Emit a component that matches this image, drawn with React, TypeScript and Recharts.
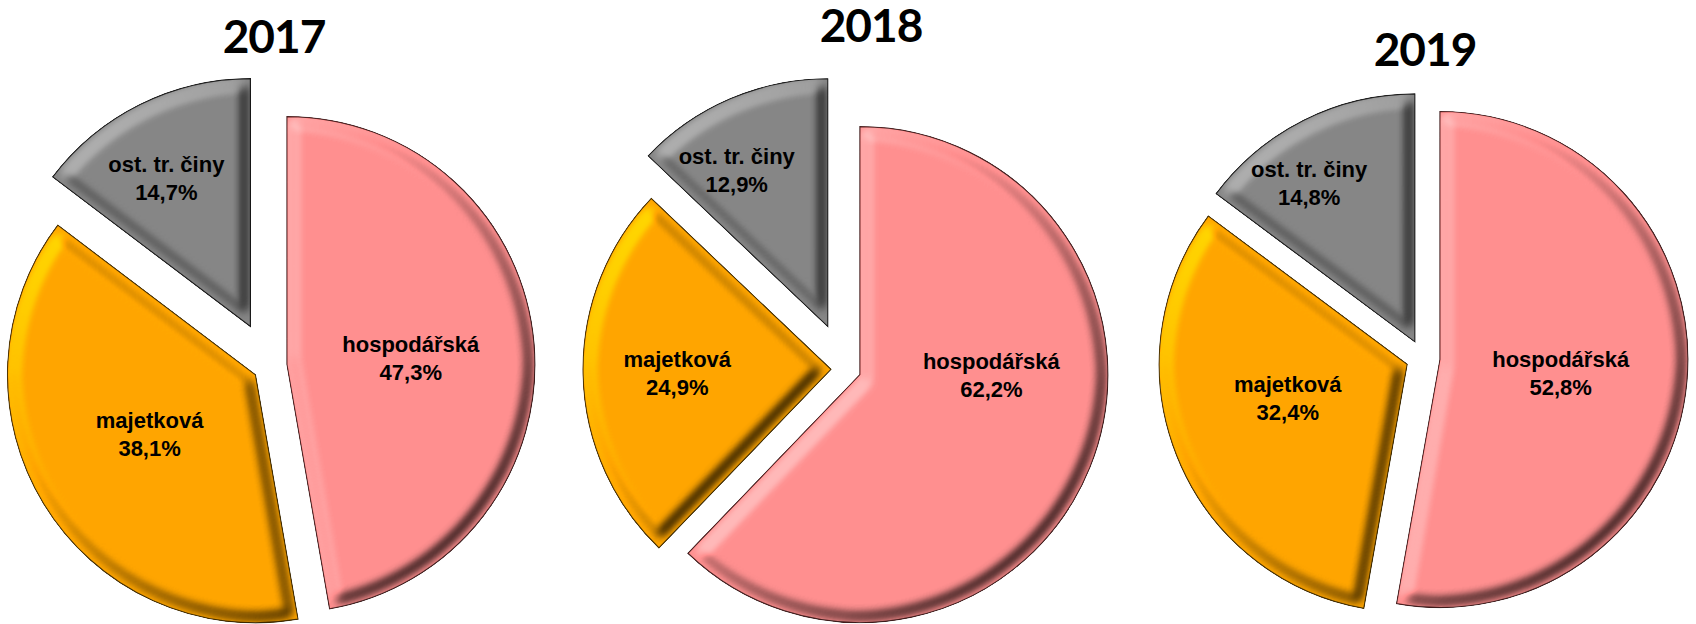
import { PieChart, Pie, Cell } from 'recharts';

const years = ['2017', '2018', '2019'];
const categories = ['hospodářská', 'majetková', 'ost. tr. činy'];
const share2017 = [47.3, 38.1, 14.7];
const share2018 = [62.2, 24.9, 12.9];
const share2019 = [52.8, 32.4, 14.8];
const shares = [share2017, share2018, share2019];

const colors = ['#ff8f8f', '#ffa500', '#868686'];
const edges = ['#4a2222', '#4a3200', '#1c1c1c'];

const W = 1696;
const H = 624;
const R = 248;
// pie centres, explode distance per slice, label [radius fraction, angle tweak]
const centers = [[270, 366], [846, 369], [1423, 358]];
const explode = [[17, 17, 44], [15, 15, 46], [17, 17, 18]];
const labelPos = [
  [[0.5, -2], [0.49, -2], [0.69, 3]],
  [[0.53, 22], [0.62, 0], [0.73, 7]],
  [[0.49, -1.5], [0.5, -6], [0.77, 7]],
];
const titlePos = [[274, 54], [871, 43], [1425, 67]];

const RAD = Math.PI / 180;
const fmt = (v: number) => v.toFixed(1).replace('.', ',') + '%';

function midAngles(values: number[]) {
  const total = values.reduce((a, b) => a + b, 0);
  let acc = 0;
  return values.map((v) => {
    const m = ((acc + v / 2) / total) * 360; // clockwise from 12 o'clock
    acc += v;
    return m;
  });
}

function makeLabel(y: number, i: number) {
  return (props: any) => {
    if (props.index !== i) return <g />;
    const [f, tweak] = labelPos[y][i];
    const a = (props.midAngle + tweak) * RAD;
    const x = props.cx + R * f * Math.cos(-a);
    const yy = props.cy + R * f * Math.sin(-a);
    const font = { fontFamily: "'Liberation Sans', Arial, sans-serif", fontWeight: 700, fontSize: 22, fill: '#000' };
    return (
      <g>
        <text x={x} y={yy - 6} textAnchor="middle" {...font}>
          {categories[i]}
        </text>
        <text x={x} y={yy + 22} textAnchor="middle" {...font}>
          {fmt(shares[y][i])}
        </text>
      </g>
    );
  };
}

export default function App() {
  const pies: any[] = [];
  shares.forEach((vals, y) => {
    const rows = categories.map((name, j) => ({ name, value: vals[j] }));
    const mids = midAngles(vals);
    categories.forEach((_, i) => {
      const d = explode[y][i];
      const cx = centers[y][0] + d * Math.sin(mids[i] * RAD);
      const cy = centers[y][1] - d * Math.cos(mids[i] * RAD);
      pies.push(
        <Pie
          key={`${y}-${i}`}
          data={rows}
          dataKey="value"
          nameKey="name"
          cx={cx}
          cy={cy}
          outerRadius={R}
          startAngle={90}
          endAngle={-270}
          isAnimationActive={false}
          labelLine={false}
          label={makeLabel(y, i)}
        >
          {rows.map((r, j) => (
            <Cell
              key={r.name}
              fill={j === i ? colors[j] : 'none'}
              stroke={j === i ? edges[j] : 'none'}
              strokeWidth={1.2}
              filter={j === i ? 'url(#bevel)' : undefined}
            />
          ))}
        </Pie>
      );
    });
  });

  return (
    <div style={{ position: 'absolute', left: 0, top: 0, width: W, height: H, background: '#fff' }}>
      <svg width={0} height={0} style={{ position: 'absolute' }}>
        <defs>
          <filter id="bevel" x="-5%" y="-5%" width="110%" height="110%" colorInterpolationFilters="sRGB">
            <feMorphology in="SourceAlpha" operator="erode" radius="7" result="shrunk" />
            <feGaussianBlur in="shrunk" stdDeviation="5" result="blur" />
            <feDiffuseLighting in="blur" surfaceScale="5" diffuseConstant="1" lightingColor="#ffffff" result="light">
              <feDistantLight azimuth="225" elevation="45" />
            </feDiffuseLighting>
            <feComposite in="SourceGraphic" in2="light" operator="arithmetic" k1="1" k2="0.293" k3="0" k4="0" result="lit" />
            <feComposite in="lit" in2="SourceAlpha" operator="in" />
          </filter>
        </defs>
      </svg>
      <PieChart width={W} height={H} margin={{ top: 0, right: 0, bottom: 0, left: 0 }}>
        {pies}
      </PieChart>
      {years.map((yr, k) => (
        <div
          key={yr}
          style={{
            position: 'absolute',
            left: titlePos[k][0] - 100,
            top: titlePos[k][1] - 38,
            width: 200,
            textAlign: 'center',
            fontFamily: 'Lato, sans-serif',
            fontWeight: 700,
            fontSize: 46,
            lineHeight: '40px',
            letterSpacing: -1,
            color: '#000',
          }}
        >
          {yr}
        </div>
      ))}
    </div>
  );
}
